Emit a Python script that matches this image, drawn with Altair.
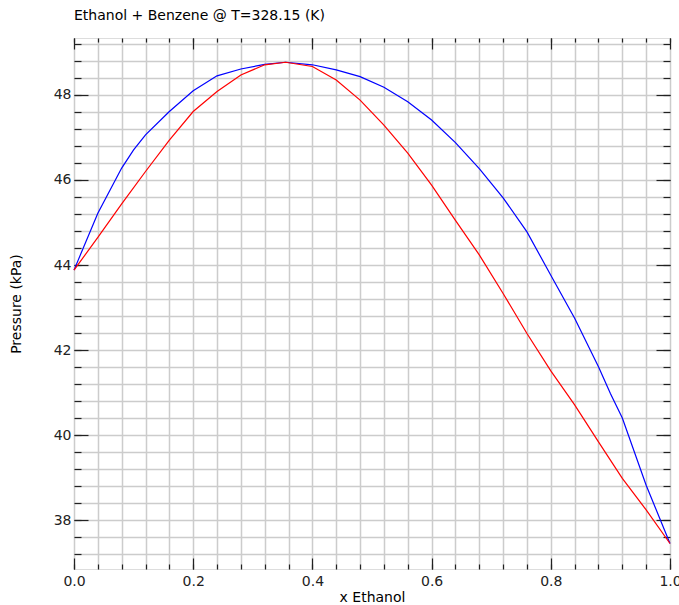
import altair as alt
import pandas as pd

# ---- data ----
x_liquid = [0.0, 0.04, 0.08, 0.10, 0.12, 0.16, 0.20, 0.24, 0.28, 0.32, 0.355, 0.40, 0.44,
            0.48, 0.52, 0.56, 0.60, 0.64, 0.68, 0.72, 0.76, 0.80, 0.84, 0.88, 0.90, 0.92, 0.96, 1.0]
p_liquid = [43.88, 45.22, 46.28, 46.71, 47.06, 47.61, 48.10, 48.45, 48.61, 48.72, 48.77, 48.71, 48.59,
            48.43, 48.18, 47.84, 47.41, 46.88, 46.27, 45.58, 44.78, 43.76, 42.75, 41.61, 40.98, 40.40, 38.82, 37.45]

x_vapor = [0.0, 0.04, 0.08, 0.12, 0.16, 0.20, 0.24, 0.28, 0.32, 0.355, 0.40, 0.44, 0.48,
           0.52, 0.56, 0.60, 0.64, 0.68, 0.72, 0.76, 0.80, 0.84, 0.88, 0.92, 0.96, 1.0]
p_vapor = [43.88, 44.65, 45.44, 46.20, 46.94, 47.61, 48.08, 48.47, 48.71, 48.77, 48.67, 48.35, 47.88,
           47.29, 46.63, 45.88, 45.05, 44.24, 43.33, 42.39, 41.51, 40.71, 39.84, 38.98, 38.24, 37.45]

series_names = ["Bubble", "Dew"]
series_colors = ["#0000ff", "#ff0000"]

x_major = [0.0, 0.2, 0.4, 0.6, 0.8, 1.0]
x_minor = [round(i * 0.04, 2) for i in range(26)]
y_major = [38, 40, 42, 44, 46, 48]
y_minor = [round(37.2 + i * 0.4, 1) for i in range(31)]

title_text = "Ethanol + Benzene @ T=328.15 (K)"
x_title = "x Ethanol"
y_title = "Pressure (kPa)"

rows = []
for i, (xx, pp) in enumerate(zip(x_liquid, p_liquid)):
    rows.append({"x": xx, "P": pp, "series": series_names[0], "order": i})
for i, (xx, pp) in enumerate(zip(x_vapor, p_vapor)):
    rows.append({"x": xx, "P": pp, "series": series_names[1], "order": i})
df = pd.DataFrame(rows)

FONT = "DejaVu Sans"
xs = alt.Scale(domain=[0, 1], nice=False, zero=False)
ys = alt.Scale(domain=[36.85, 49.34], nice=False, zero=False)
color = alt.Color("series:N", scale=alt.Scale(domain=series_names, range=series_colors), legend=None)

base = alt.Chart(df)


def tick_axis(orient, values, size):
    return alt.Axis(orient=orient, values=values, labels=False, domain=False, grid=False,
                    ticks=True, tickSize=size, offset=-size, tickColor="#222222",
                    tickWidth=1.2, title=None)


def ghost(xaxis, yaxis):
    return base.mark_line(opacity=0).encode(
        x=alt.X("x:Q", scale=xs, axis=xaxis),
        y=alt.Y("P:Q", scale=ys, axis=yaxis),
        detail="series:N",
    )


grid_layer = ghost(
    alt.Axis(orient="bottom", values=x_minor, grid=True, gridColor="#cccccc", gridWidth=1.5,
             labels=False, ticks=False, domain=False, title=None),
    alt.Axis(orient="left", values=y_minor, grid=True, gridColor="#cccccc", gridWidth=1.5,
             labels=False, ticks=False, domain=False, title=None),
)

t1 = ghost(tick_axis("bottom", x_minor, 5), tick_axis("left", y_minor, 7))
t2 = ghost(tick_axis("bottom", x_major, 11), tick_axis("left", y_major, 14))
t3 = ghost(tick_axis("top", x_minor, 4), tick_axis("right", y_minor, 7))
t4 = ghost(tick_axis("top", x_major, 11), tick_axis("right", y_major, 14))

lines = base.mark_line(strokeWidth=1.2).encode(
    x=alt.X("x:Q", scale=xs,
            axis=alt.Axis(orient="bottom", values=x_major, format=".1f", ticks=False, domain=False,
                          grid=False, labelFlush=False, labelFont=FONT, labelFontSize=14,
                          labelColor="#222222", labelPadding=5, title=x_title, titleFont=FONT,
                          titleFontSize=14, titleFontWeight="normal", titleColor="#000000",
                          titlePadding=2)),
    y=alt.Y("P:Q", scale=ys,
            axis=alt.Axis(orient="left", values=y_major, format="d", ticks=False, domain=False,
                          grid=False, labelFlush=False, labelFont=FONT, labelFontSize=14,
                          labelColor="#222222", labelPadding=3, title=y_title, titleFont=FONT,
                          titleFontSize=14, titleFontWeight="normal", titleColor="#000000",
                          titlePadding=30)),
    color=color,
    order="order:Q",
)

chart = (
    alt.layer(grid_layer, t1, t2, t3, t4, lines)
    .resolve_scale(x="shared", y="shared")
    .resolve_axis(x="independent", y="independent")
    .properties(
        width=596,
        height=531,
        title=alt.TitleParams(title_text, anchor="start", font=FONT, fontSize=14,
                              fontWeight="normal", color="#000000", offset=14, frame="group"),
        autosize=alt.AutoSizeParams(type="none"),
        padding={"left": 74, "top": 38, "right": 9, "bottom": 36},
    )
    .configure_view(stroke="#222222", strokeWidth=1.5)
    .configure(background="#ffffff")
)

chart.save("out.html", embed_options={"renderer": "svg", "actions": False})
